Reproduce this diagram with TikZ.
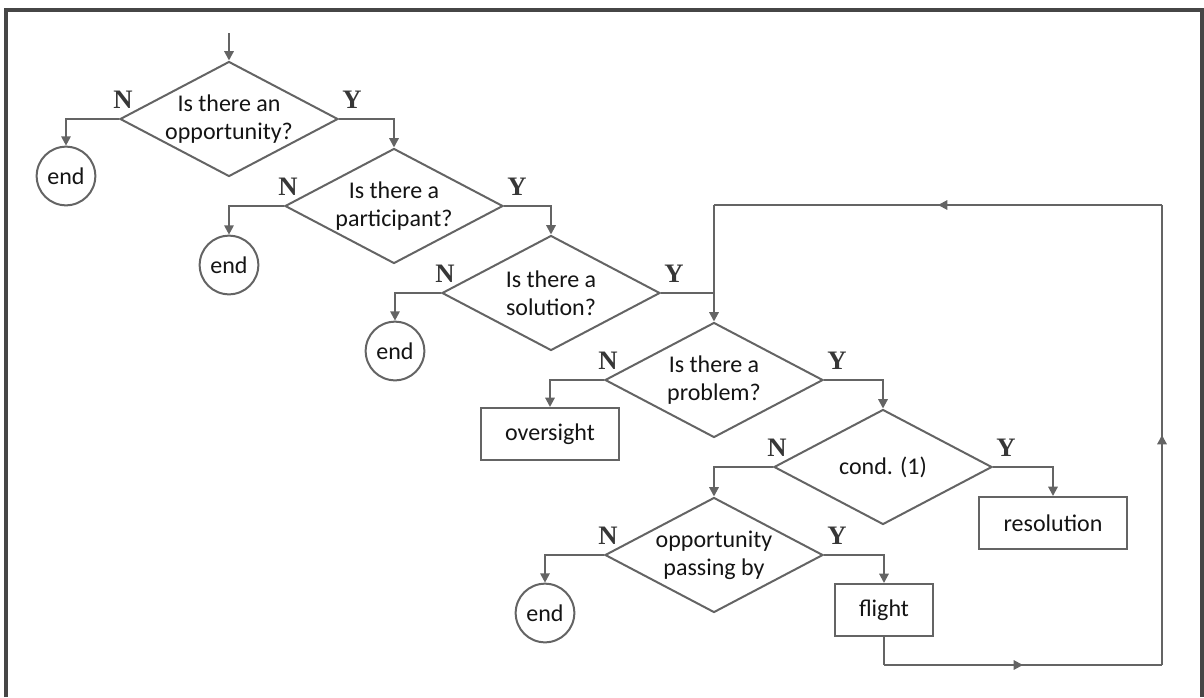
\documentclass[tikz,border=0pt]{standalone}
\usepackage{fontspec}
\setmainfont{Carlito}
\newfontfamily\ynfont{Liberation Serif}
\usetikzlibrary{shapes.geometric,arrows.meta,decorations.markings}
\definecolor{linegray}{RGB}{100,100,100}
\definecolor{framegray}{RGB}{70,70,70}
\definecolor{txt}{RGB}{20,20,20}
\definecolor{yncol}{RGB}{55,55,55}

\begin{document}
\begin{tikzpicture}[x=0.75pt,y=-0.75pt,color=linegray,line width=1.5pt,
  >={Triangle[length=7pt,width=7pt]},
  every node/.style={text=txt,font=\fontsize{18}{21}\selectfont},
  dec/.style={diamond,draw,aspect=1.9,inner sep=-3pt,minimum width=163.5pt,minimum height=86.25pt,align=center},
  stop/.style={circle,draw,inner sep=0pt,minimum size=44pt},
  act/.style={rectangle,draw,inner sep=0pt,minimum height=39pt},
  yn/.style={text=yncol,font=\ynfont\bfseries\fontsize{20}{20}\selectfont},
  midarr/.style={postaction={decorate},decoration={markings,mark=at position .5 with {\arrow{Triangle[length=7pt,width=7pt]}}}}]
\useasboundingbox (0,0) rectangle (1204,697);
\draw[framegray,line width=2.4pt] (6,697) |- (1202,10) -- (1202,697);

% decisions
\node (opp) at (229,119) [dec] {Is there an\\opportunity?};
\node (part) at (394,206) [dec] {Is there a\\participant?};
\node (sol) at (551,293) [dec] {Is there a\\solution?};
\node (prob) at (714,380) [dec] {Is there a\\problem?};
\node (cond) at (883,467) [dec] {cond. (1)};
\node (pass) at (714,555) [dec] {opportunity\\passing by};

% outcomes
\node (end1) at (66,176) [stop] {end};
\node (end2) at (229,265) [stop] {end};
\node (end3) at (395,351) [stop] {end};
\node (end4) at (545,613) [stop] {end};
\node (over) at (550,434) [act,minimum width=103.5pt] {oversight};
\node (resol) at (1053,523) [act,minimum width=111pt] {resolution};
\node (flight) at (884,610) [act,minimum width=74pt] {flight};

\foreach \d in {opp,part,sol,prob,cond,pass}{
  \node (\d-N) at ([shift={(4,-19)}]\d.west) [yn] {N};
  \node (\d-Y) at ([shift={(13,-19)}]\d.east) [yn] {Y};
}

\coordinate (start) at (229,33);
\coordinate (lp1) at (1162,665);
\coordinate (lp2) at (1162,205);
\coordinate (lp3) at (714,205);

\draw[->] (start) -- (opp);
\draw[->] (opp.west) -| (end1);
\draw[->] (opp.east) -| (part);
\draw[->] (part.west) -| (end2);
\draw[->] (part.east) -| (sol);
\draw[->] (sol.west) -| (end3);
\draw (sol.east) -- (sol.east -| lp3);
\draw[->] (prob.west) -| (over);
\draw[->] (prob.east) -| (cond);
\draw[->] (cond.west) -| (pass);
\draw[->] (cond.east) -| (resol);
\draw[->] (pass.west) -| (end4);
\draw[->] (pass.east) -| (flight);

% loop back
\draw (flight.south) -- (flight.south |- lp1);
\draw[midarr] (flight.south |- lp1) -- (lp1);
\draw[midarr] (lp1) -- (lp2);
\draw[midarr] (lp2) -- (lp3);
\draw[->] (lp3) -- (prob);
\end{tikzpicture}
\end{document}
